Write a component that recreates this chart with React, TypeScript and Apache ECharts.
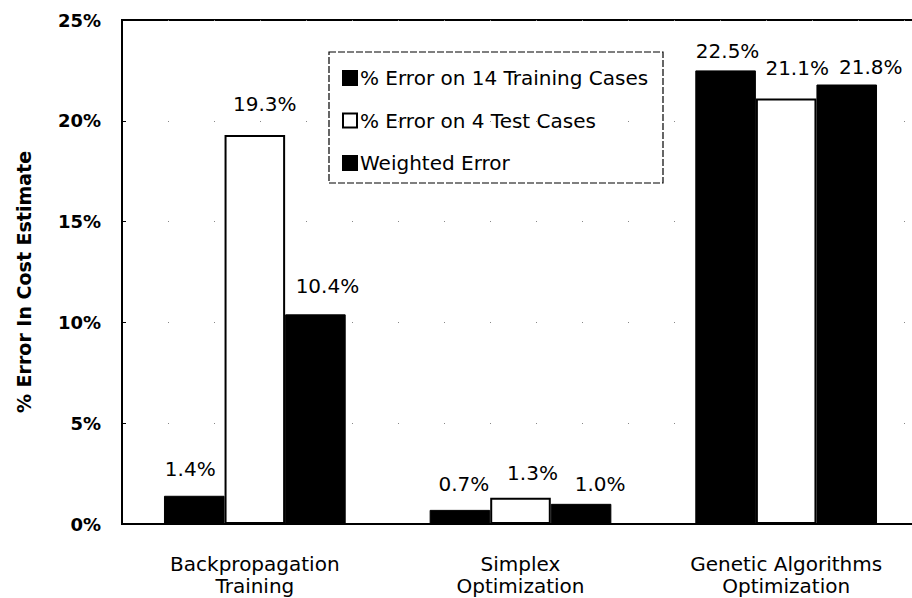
import React, { useEffect, useRef } from "react";
import * as echarts from "echarts";

const categories = ["Backpropagation\nTraining", "Simplex\nOptimization", "Genetic Algorithms\nOptimization"];
const seriesNames = ["% Error on 14 Training Cases", "% Error on 4 Test Cases", "Weighted Error"];
const trainingErr = [1.4, 0.7, 22.5];
const testErr = [19.3, 1.3, 21.1];
const weightedErr = [10.4, 1.0, 21.8];
const yTicks = [0, 5, 10, 15, 20, 25];

// label placement styling (distance above bar, horizontal offset)
const labelDist = [
  [17, 16, 9],
  [21, 15, 21],
  [18, 10, 8],
];
const labelDx = [
  [-4, 4, 2],
  [10, 12, 11],
  [12, 19, 24],
];

const FONT = "'DejaVu Sans', 'Liberation Sans', Arial, sans-serif";

export default function App() {
  const ref = useRef<HTMLDivElement>(null);
  useEffect(() => {
    if (!ref.current) return;
    const chart = echarts.init(ref.current, undefined, { renderer: "svg" });
    const labelBase = {
      show: true,
      position: "top" as const,
      color: "#000",
      fontFamily: FONT,
      fontSize: 20,
      formatter: (p: any) => p.value.toFixed(1) + "%",
    };
    const mk = (vals: number[], s: number) =>
      vals.map((v, i) => ({
        value: v,
        label: { distance: labelDist[s][i], offset: [labelDx[s][i], 0] },
      }));
    chart.setOption({
      animation: false,
      backgroundColor: "#fff",
      textStyle: { fontFamily: FONT },
      grid: {
        left: 122,
        top: 20,
        bottom: 74,
        width: 797,
        show: true,
        borderColor: "#000",
        borderWidth: 2,
        backgroundColor: "transparent",
      },
      legend: {
        orient: "vertical",
        left: 337,
        top: 63,
        itemGap: 22.5,
        itemWidth: 14,
        itemHeight: 14,
        icon: "rect",
        textStyle: { fontFamily: FONT, fontSize: 20, color: "#000", padding: [0, 0, 0, -2] },
        data: seriesNames,
      },
      graphic: [
        {
          type: "rect",
          shape: { x: 329, y: 52, width: 334, height: 131 },
          style: { fill: "none", stroke: "#000", lineWidth: 1.2, lineDash: [7, 2] },
          z: 100,
        },
      ],
      xAxis: {
        type: "category",
        data: categories,
        axisLine: { lineStyle: { color: "#000", width: 2 } },
        axisTick: { show: false },
        axisLabel: {
          color: "#000",
          fontFamily: FONT,
          fontSize: 20,
          lineHeight: 22,
          margin: 29,
        },
      },
      yAxis: {
        type: "value",
        min: yTicks[0],
        max: yTicks[yTicks.length - 1],
        interval: 5,
        name: "% Error In Cost Estimate",
        nameLocation: "middle",
        nameGap: 89,
        nameTextStyle: {
          fontFamily: FONT,
          fontSize: 19,
          fontWeight: "bold",
          color: "#000",
          padding: [0, 20, 0, 0],
        },
        axisLine: { show: true, lineStyle: { color: "#000", width: 2 } },
        axisTick: { show: true, inside: true, length: 4, lineStyle: { color: "#000" } },
        axisLabel: {
          color: "#000",
          fontFamily: FONT,
          fontSize: 18,
          fontWeight: "bold",
          margin: 21,
          formatter: (v: number) => v + "%",
        },
        splitLine: { show: true, lineStyle: { color: "#888", width: 1, type: [1, 45] } },
      },
      series: [
        {
          name: seriesNames[0],
          type: "bar",
          data: mk(trainingErr, 0),
          barGap: "0%",
          barCategoryGap: "31.6%",
          itemStyle: { color: "#000", borderColor: "#000", borderWidth: 1 },
          label: labelBase,
        },
        {
          name: seriesNames[1],
          type: "bar",
          data: mk(testErr, 1),
          itemStyle: { color: "#fff", borderColor: "#000", borderWidth: 2 },
          label: labelBase,
        },
        {
          name: seriesNames[2],
          type: "bar",
          data: mk(weightedErr, 2),
          itemStyle: { color: "#000", borderColor: "#000", borderWidth: 1 },
          label: labelBase,
        },
      ],
    });
    return () => chart.dispose();
  }, []);
  return (
    <div style={{ position: "absolute", left: 0, top: 0, width: 912, height: 598, overflow: "hidden", background: "#fff" }}>
      <div ref={ref} style={{ width: 940, height: 598 }} />
    </div>
  );
}
